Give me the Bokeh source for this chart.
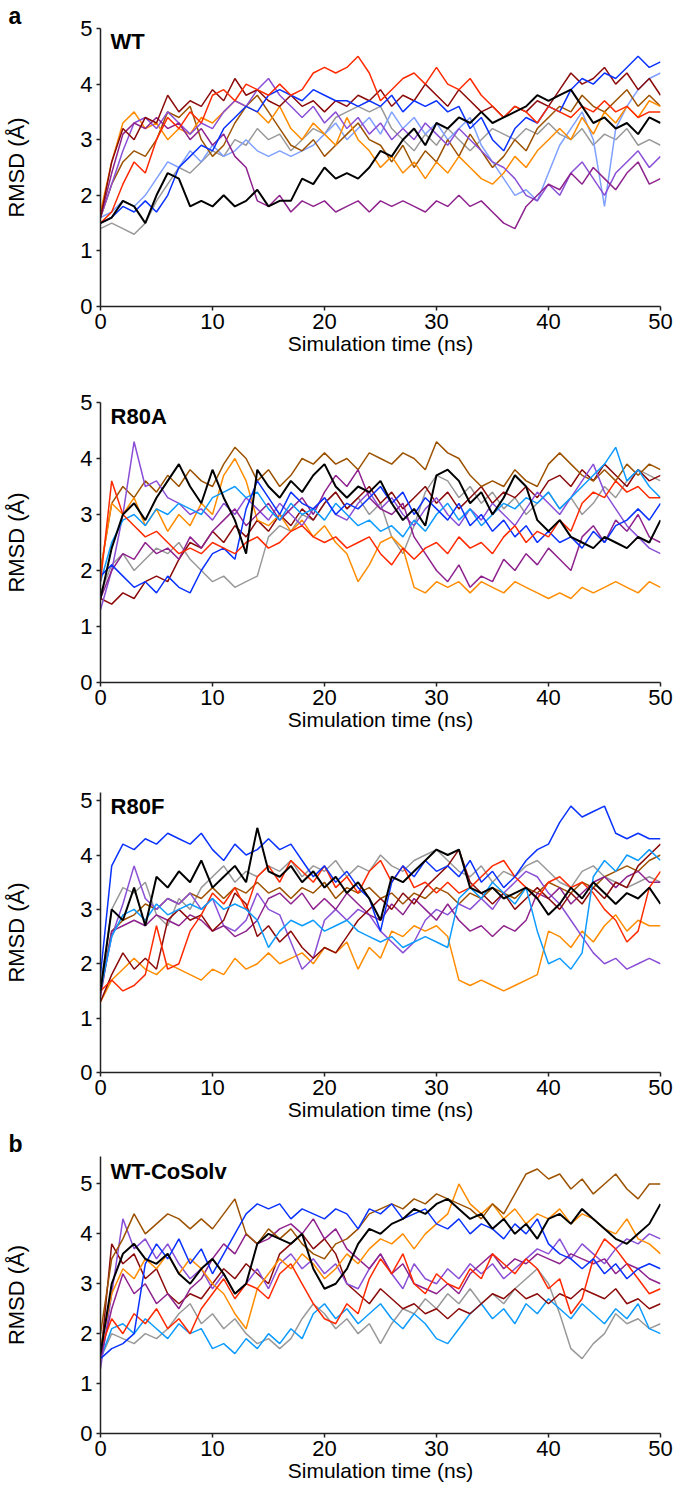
from bokeh.plotting import figure
from bokeh.layouts import column
from bokeh.models import Range1d, Label, FixedTicker
from bokeh.embed import file_html
from bokeh.resources import INLINE

TIME_NS = list(range(51))
X_TICKS = [0, 10, 20, 30, 40, 50]
Y_TICKS = [0, 1, 2, 3, 4, 5]

COLORS = {
    "black": "#000000", "red": "#ff2a00", "blue": "#0a32ff", "orange": "#ff8c00",
    "purple": "#8e238e", "violet": "#8a4fd6", "brown": "#9c5200", "grey": "#999999",
    "lightblue": "#7fa0ff", "darkred": "#8b0a0a", "skyblue": "#0d9bff",
}

# ---------------- WT ----------------
wt_black = [1.5,1.6,1.9,1.8,1.5,2.0,2.4,2.3,1.8,1.9,1.8,2.0,1.8,1.9,2.1,1.8,1.9,1.9,2.3,2.2,2.5,2.3,2.4,2.3,2.5,2.8,2.7,3.0,3.2,2.9,3.3,3.2,3.4,3.3,3.5,3.3,3.4,3.5,3.6,3.8,3.7,3.8,3.9,3.6,3.3,3.4,3.2,3.3,3.1,3.4,3.3]
wt_red = [1.5,1.7,2.2,2.6,2.4,3.0,3.4,3.2,3.5,3.3,3.8,3.9,3.7,4.0,3.9,3.8,4.0,3.8,3.9,4.2,4.3,4.2,4.3,4.5,4.2,3.7,3.9,4.1,4.2,4.0,4.3,4.0,3.9,4.1,3.8,3.6,3.4,3.6,3.5,3.3,3.6,3.5,3.4,3.6,3.5,3.7,3.5,3.6,3.4,3.5,3.5]
wt_blue = [1.5,1.6,1.8,1.7,1.9,1.7,2.0,2.5,2.7,2.9,2.8,3.2,3.4,3.6,3.5,3.8,3.9,3.8,3.7,3.9,3.8,3.7,3.7,3.6,3.7,3.6,3.8,3.5,3.7,3.6,3.7,3.5,3.6,3.2,3.4,3.0,2.8,3.2,3.4,3.3,3.6,3.5,3.9,4.1,4.0,4.2,4.1,4.3,4.5,4.3,4.4]
wt_orange = [1.7,2.6,3.3,3.5,3.2,3.3,3.0,3.2,3.1,3.4,3.3,3.5,3.7,3.6,3.5,3.3,3.6,3.2,3.0,3.3,3.1,2.9,3.4,3.0,2.8,2.5,2.7,2.4,2.6,2.3,2.6,2.4,2.7,2.5,2.3,2.2,2.4,2.7,2.5,2.8,3.0,3.2,3.0,3.4,3.1,3.5,3.3,3.6,3.4,3.7,3.6]
wt_purple = [1.6,2.4,3.1,3.3,3.2,3.4,3.2,3.3,3.0,3.2,2.9,3.1,2.7,2.5,1.9,1.8,2.0,1.7,1.9,1.8,1.9,1.7,1.8,1.9,1.7,1.9,1.8,1.9,1.8,1.7,1.9,1.8,2.0,1.8,1.9,1.7,1.5,1.4,1.8,2.0,2.2,2.1,2.4,2.2,2.5,2.3,2.1,2.4,2.6,2.2,2.3]
wt_violet = [1.6,2.2,2.8,3.3,3.4,3.2,3.5,3.3,3.1,3.3,3.2,3.5,3.7,3.6,3.9,4.1,3.8,3.6,3.4,3.6,3.3,3.5,3.2,3.4,3.1,3.3,3.0,3.2,3.0,3.3,3.1,2.9,3.2,3.0,2.8,2.6,2.5,2.3,2.0,1.9,2.2,2.0,2.4,2.6,2.3,2.0,2.4,2.6,2.8,2.5,2.7]
wt_brown = [1.6,2.2,2.6,2.8,2.7,3.0,3.5,3.4,3.6,3.0,2.7,2.9,3.3,3.6,3.8,3.5,3.2,2.9,2.8,3.0,2.7,2.9,3.1,3.3,3.0,2.9,2.6,2.9,2.5,2.8,2.6,3.0,2.7,3.1,2.8,2.5,2.7,3.0,2.8,3.2,3.4,3.6,3.5,3.8,3.6,3.5,3.7,3.9,3.6,3.8,3.6]
wt_grey = [1.4,1.5,1.4,1.3,1.5,1.9,2.2,2.5,2.4,2.6,2.8,2.7,3.0,2.9,3.2,3.0,3.1,2.8,3.0,3.2,3.1,3.4,3.5,3.6,3.5,3.6,3.2,3.0,2.8,3.1,2.9,3.2,3.0,2.8,3.0,3.2,3.1,3.0,3.2,3.1,3.3,3.1,3.0,3.2,2.9,3.1,3.0,3.2,2.9,3.0,2.9]
wt_lightblue = [1.6,1.7,1.9,1.8,2.0,2.3,2.6,2.5,2.8,2.6,2.9,2.7,2.8,3.0,2.8,2.7,2.8,2.7,2.8,2.9,3.1,3.3,3.0,3.2,3.4,3.1,3.5,3.2,3.4,3.1,3.3,3.0,3.2,3.4,2.9,2.6,2.3,2.0,2.1,1.9,2.4,2.9,3.2,3.5,3.0,1.8,3.2,3.6,3.9,4.1,4.2]
wt_darkred = [1.6,2.6,3.2,3.0,3.4,3.3,3.8,3.5,3.7,3.6,3.9,3.7,4.1,3.8,3.9,3.7,3.6,3.8,3.6,3.7,3.5,3.7,3.6,3.8,3.7,3.9,3.6,3.8,3.7,4.0,3.8,3.6,3.9,3.7,3.5,3.6,3.4,3.6,3.5,3.7,3.6,3.9,4.2,4.0,4.1,4.3,4.0,4.2,3.9,4.1,3.8]

# ---------------- R80A ----------------
a_brown = [2.0,3.2,3.5,3.3,3.6,3.4,3.7,3.5,3.8,3.6,3.5,3.9,4.2,4.0,3.6,3.8,3.5,3.7,4.0,3.9,4.1,3.9,4.0,3.8,4.1,4.0,3.9,4.1,4.0,3.8,4.3,4.1,4.0,3.7,3.5,3.6,3.5,3.8,3.6,3.5,3.9,4.1,3.9,3.7,3.6,3.8,3.6,3.9,3.7,3.9,3.8]
a_black = [1.5,2.4,3.0,3.2,2.9,3.3,3.6,3.9,3.5,3.2,3.8,3.3,2.9,2.3,3.8,3.5,3.3,3.6,3.4,3.7,3.9,3.5,3.3,3.5,3.4,3.6,3.2,2.9,3.1,2.8,3.7,3.8,3.6,3.2,3.4,3.0,3.3,3.7,3.5,2.9,2.7,2.9,2.6,2.5,2.4,2.6,2.5,2.4,2.6,2.5,2.9]
a_red = [1.8,3.6,3.0,2.8,2.6,2.7,2.5,2.3,2.4,2.3,2.5,2.4,2.3,2.5,2.6,2.4,2.5,2.7,2.8,2.6,2.5,2.6,2.4,2.5,2.6,2.3,2.1,2.4,2.2,2.4,2.5,2.3,2.6,2.4,2.5,2.3,2.6,2.8,2.5,2.7,2.6,2.9,2.7,3.2,3.4,3.3,3.6,3.4,3.5,3.3,3.3]
a_blue = [1.9,2.1,1.9,1.7,1.8,1.6,1.9,1.7,1.6,2.0,2.3,2.4,2.2,3.1,3.6,3.3,3.0,3.4,3.2,3.1,3.3,3.0,3.2,3.1,3.3,3.5,3.2,3.4,3.0,3.3,3.1,2.9,3.2,2.8,3.0,2.7,2.9,2.6,2.8,2.5,2.7,2.5,2.6,2.4,2.7,2.5,2.8,2.9,3.1,2.9,3.2]
a_skyblue = [1.8,2.5,2.9,3.0,2.8,3.1,3.0,3.2,3.1,3.0,3.3,3.4,3.5,3.3,3.4,3.1,2.9,3.2,3.0,3.1,2.9,3.2,3.0,2.8,2.9,2.7,2.8,2.6,2.9,2.7,3.0,3.2,2.9,3.1,2.8,3.0,3.2,3.1,3.3,3.2,3.4,3.1,3.3,3.5,3.7,3.9,4.2,3.6,3.8,3.5,3.3]
a_orange = [2.0,3.2,3.0,3.3,2.8,3.1,2.7,3.0,2.8,3.2,3.0,3.7,4.0,3.6,2.9,2.8,3.0,2.7,2.9,2.6,2.8,2.5,2.3,1.8,2.1,2.5,2.6,2.4,1.7,1.6,1.8,1.7,1.8,1.6,1.8,1.7,1.6,1.8,1.7,1.6,1.5,1.6,1.5,1.7,1.6,1.7,1.8,1.7,1.6,1.8,1.7]
a_purple = [1.5,2.0,2.3,2.2,2.5,2.3,2.4,2.2,2.6,2.4,2.7,2.9,3.1,2.8,3.0,3.2,2.9,3.1,3.3,3.0,3.4,3.7,3.5,3.8,3.3,3.1,3.0,3.2,2.6,2.3,2.0,1.8,2.1,1.7,1.9,1.8,2.2,2.0,2.3,2.1,2.4,2.2,2.0,2.6,2.8,2.5,2.9,2.7,3.0,2.6,2.5]
a_violet = [1.3,2.0,3.0,4.3,3.5,3.6,3.3,3.2,3.0,3.1,2.9,3.2,3.0,3.3,3.1,2.9,3.2,3.0,2.8,3.1,3.3,3.0,2.9,3.2,3.4,3.1,3.3,3.0,2.8,3.1,3.3,3.0,2.8,3.1,2.9,3.2,3.0,2.8,3.1,3.4,3.2,3.0,3.3,3.6,3.9,3.4,3.1,2.8,2.6,2.4,2.3]
a_grey = [1.6,2.1,2.3,2.0,2.2,2.4,2.3,2.5,2.2,2.0,1.8,1.9,1.7,1.8,1.9,2.6,2.8,2.7,3.0,2.9,3.2,3.4,3.1,3.3,3.0,3.2,2.6,2.3,2.8,3.4,3.7,3.6,3.3,3.5,3.2,3.4,3.1,3.3,3.0,3.2,3.4,3.1,3.3,3.0,3.2,3.5,3.3,3.6,3.8,3.7,3.6]
a_darkred = [1.5,1.4,1.6,1.5,1.8,1.9,1.8,2.2,2.5,2.4,2.7,2.5,2.8,2.6,2.9,2.7,3.0,2.8,3.1,2.9,3.2,3.4,3.1,3.3,3.5,3.2,3.4,3.1,3.3,3.5,3.2,3.4,3.1,3.3,3.5,3.2,3.4,3.3,3.5,3.3,3.6,3.7,3.5,3.8,3.6,3.9,3.7,3.5,3.8,3.6,3.7]

# ---------------- R80F ----------------
f_blue = [1.8,3.8,4.2,4.1,4.3,4.2,4.4,4.3,4.2,4.4,4.1,3.9,4.2,4.0,4.1,4.3,4.1,4.2,3.9,3.6,3.8,3.5,3.7,3.4,3.2,2.6,3.5,3.8,3.6,3.9,3.7,3.8,3.6,3.9,3.5,3.7,3.4,3.6,3.9,4.1,4.2,4.6,4.9,4.7,4.8,4.9,4.4,4.3,4.4,4.3,4.3]
f_skyblue = [1.5,2.5,2.9,3.0,2.8,3.1,2.9,3.0,3.1,3.0,3.2,3.0,3.1,3.0,2.8,2.3,2.6,2.8,2.7,2.8,2.6,2.7,2.8,2.6,2.5,2.4,2.5,2.3,2.4,2.5,2.4,2.3,3.2,3.4,3.2,3.5,3.3,3.1,3.4,2.6,2.0,2.1,1.9,2.2,3.6,3.9,3.7,4.0,3.9,4.1,3.9]
f_black = [1.5,3.0,2.8,3.4,2.7,3.6,3.4,3.7,3.5,3.9,3.4,3.6,3.8,3.5,4.5,3.7,3.6,3.8,3.5,3.7,3.4,3.6,3.3,3.5,3.2,2.8,3.6,3.5,3.7,3.9,4.1,4.0,4.1,3.4,3.3,3.4,3.2,3.3,3.4,3.2,2.9,3.1,3.4,3.2,3.5,3.3,3.1,3.3,3.2,3.4,3.1]
f_grey = [1.6,3.0,3.4,3.3,3.5,2.9,2.7,3.2,3.0,3.4,3.6,3.8,3.5,3.7,3.6,3.8,3.7,3.9,3.6,3.8,3.7,3.9,3.6,3.8,3.7,4.0,3.8,3.7,3.9,4.0,4.1,3.9,3.7,3.6,3.8,3.5,3.7,3.6,3.8,3.9,3.7,3.5,3.4,3.7,3.8,3.6,3.5,3.4,3.5,3.6,3.5]
f_violet = [1.5,2.5,3.1,3.8,3.2,3.0,3.2,3.1,3.3,3.0,3.2,2.7,2.6,2.8,3.3,3.0,2.9,2.4,1.9,2.1,2.8,3.0,2.8,3.0,2.9,2.6,2.4,2.2,2.4,2.8,3.0,2.9,3.1,3.0,3.2,3.0,3.3,3.5,3.7,3.6,3.3,3.1,2.8,2.5,2.2,2.0,2.1,1.9,2.0,2.1,2.0]
f_purple = [1.4,2.6,2.7,2.8,2.7,2.9,2.8,2.7,2.9,2.8,2.6,2.7,2.5,2.6,2.8,3.2,3.3,3.1,3.3,3.0,3.2,3.0,3.3,3.1,2.9,2.8,3.1,2.9,3.2,3.0,2.8,3.1,2.8,2.6,2.7,2.5,2.7,2.6,2.8,3.3,3.2,3.4,3.1,3.3,3.5,3.6,3.4,3.6,3.7,3.5,3.5]
f_brown = [1.5,2.6,2.8,2.9,3.1,3.0,3.2,3.1,3.3,3.2,3.4,3.2,3.4,3.3,3.5,3.3,3.4,3.2,3.4,3.3,3.5,3.2,3.4,3.3,3.4,3.2,3.3,3.1,3.3,3.2,3.4,3.3,3.1,3.3,3.2,3.4,3.3,3.2,3.4,3.3,3.5,3.4,3.3,3.5,3.4,3.6,3.7,3.8,3.7,3.9,4.0]
f_darkred = [1.3,1.8,2.2,1.9,2.1,1.9,2.8,3.0,2.8,2.9,2.6,2.8,3.3,3.1,2.5,2.7,2.4,2.6,2.3,2.1,2.3,2.2,2.5,2.8,3.0,3.2,3.0,3.3,3.1,3.4,3.6,3.8,4.1,3.5,3.3,3.1,3.3,3.0,3.2,3.4,3.2,3.0,3.3,3.1,3.4,3.2,3.5,3.4,3.8,4.0,4.2]
f_red = [1.5,1.7,1.5,1.6,1.8,2.7,1.9,2.0,2.6,2.9,3.3,3.1,3.4,3.0,3.6,3.8,3.5,3.9,3.7,3.5,3.8,3.4,3.6,3.3,3.7,3.9,3.5,3.8,3.4,3.5,3.3,3.5,3.3,3.4,3.6,3.8,3.9,3.6,3.4,3.2,3.5,3.6,3.4,3.5,3.3,3.0,2.8,2.4,2.6,3.4,3.7]
f_orange = [1.3,1.7,1.9,2.1,1.9,1.8,2.0,1.9,1.8,1.7,1.9,1.8,2.1,1.9,2.0,2.2,2.0,2.1,2.2,2.0,2.3,2.2,2.4,1.9,2.3,2.1,2.6,2.5,2.7,2.6,2.7,2.5,1.7,1.6,1.7,1.6,1.5,1.6,1.7,1.8,2.6,2.5,2.3,2.6,2.4,2.7,2.9,2.6,2.8,2.7,2.7]

# ---------------- WT-CoSolv ----------------
c_brown = [2.0,3.5,3.9,4.4,4.0,4.2,4.4,4.3,4.1,4.3,4.1,4.4,4.7,4.0,3.8,4.1,3.9,4.1,3.8,3.6,3.5,3.8,3.9,4.1,4.4,4.5,4.6,4.5,4.7,4.6,4.8,4.7,4.6,4.5,4.3,4.6,4.4,4.8,5.2,5.3,5.1,5.2,4.9,5.1,4.8,5.0,5.2,4.9,4.7,5.0,5.0]
c_black = [1.6,3.0,3.6,3.8,3.5,3.4,3.6,3.2,3.0,3.3,3.5,3.2,2.8,3.0,3.8,4.0,3.9,3.8,4.0,3.3,2.9,3.0,3.3,3.8,4.1,4.0,4.2,4.3,4.5,4.4,4.6,4.7,4.5,4.3,4.4,4.1,4.3,4.0,4.2,3.9,4.3,4.4,4.2,4.5,4.3,4.1,3.9,3.8,4.0,4.2,4.6]
c_blue = [1.5,1.7,1.8,2.0,3.4,3.8,3.5,3.9,3.4,3.7,3.2,3.6,4.0,4.4,4.6,4.5,4.6,4.3,4.5,4.4,4.3,4.5,4.4,4.1,4.5,4.4,4.6,4.3,4.4,4.5,4.2,4.1,4.3,4.0,4.2,4.1,3.9,4.2,4.0,4.3,3.8,3.6,3.5,3.3,3.5,3.2,3.4,3.1,3.3,3.4,3.3]
c_skyblue = [1.5,2.1,2.2,2.0,2.3,2.1,1.9,2.2,2.0,2.1,1.7,1.8,1.6,1.9,1.7,2.0,1.8,2.1,1.9,2.4,2.6,2.3,2.5,2.2,2.4,2.6,2.3,2.1,2.4,2.2,1.9,1.8,2.1,2.4,2.6,2.3,2.5,2.2,2.6,2.4,2.7,2.5,2.3,2.6,2.4,2.2,2.5,2.3,2.6,2.1,2.0]
c_grey = [1.5,2.0,1.9,1.8,2.0,1.9,2.1,2.4,2.6,2.2,2.4,2.1,2.3,2.0,1.8,1.9,1.7,1.9,2.3,2.6,2.4,2.1,2.3,2.0,2.2,1.8,2.2,2.5,2.4,2.7,2.5,2.8,2.6,2.9,2.6,2.8,2.6,2.9,3.1,3.3,3.0,2.4,1.7,1.5,1.8,2.0,2.4,2.2,2.3,2.1,2.2]
c_orange = [1.7,2.8,3.3,3.1,3.5,3.3,3.6,3.2,3.5,3.3,3.0,2.8,2.4,2.1,2.9,3.2,3.5,3.3,3.6,3.4,3.1,3.3,3.6,3.4,3.7,3.9,3.8,4.0,3.7,4.0,4.2,4.4,5.0,4.6,4.4,4.6,4.3,4.5,4.2,4.4,4.3,4.5,4.2,4.4,4.3,4.1,4.0,4.3,3.9,3.8,3.6]
c_purple = [1.5,2.5,3.2,2.8,3.0,2.6,2.8,2.5,2.9,3.1,3.5,3.8,3.6,4.0,3.8,3.9,4.1,4.2,4.0,4.3,3.9,4.1,3.7,3.5,3.3,3.6,3.2,3.4,3.0,2.9,2.8,3.0,2.8,3.2,3.4,3.6,3.3,3.5,3.4,3.6,3.5,3.4,3.6,3.5,3.4,3.5,3.2,3.4,3.3,3.1,3.0]
c_violet = [1.3,2.8,4.3,3.7,3.9,3.5,3.8,3.4,3.1,3.3,2.9,3.2,2.8,3.0,3.3,2.9,3.4,3.6,3.3,3.5,3.2,3.4,3.0,2.9,3.3,3.6,3.2,2.9,3.4,3.1,3.0,3.3,3.1,3.4,3.2,3.4,3.1,3.3,3.5,3.7,3.6,3.9,3.5,3.8,3.6,3.4,3.7,3.9,3.8,4.0,3.9]
c_darkred = [1.5,3.8,3.4,3.6,3.1,3.3,2.8,2.6,2.8,2.7,3.0,3.3,3.1,3.4,3.2,3.0,3.6,3.8,4.0,3.7,3.9,3.6,3.0,2.8,2.6,2.9,2.7,2.5,2.6,2.4,2.5,2.3,2.5,2.4,2.6,2.8,2.7,2.9,2.7,2.8,2.6,2.8,2.7,2.9,2.8,2.7,2.9,2.6,2.7,2.5,2.6]
c_red = [1.7,2.3,2.0,2.4,2.2,2.5,2.1,2.3,2.0,2.5,2.8,3.1,2.7,3.0,2.9,2.7,3.2,3.4,3.0,2.6,2.3,2.2,2.6,2.4,3.1,3.5,3.2,3.6,3.0,2.8,3.2,3.0,2.9,3.3,3.1,3.6,3.4,3.2,3.5,3.3,2.9,3.1,2.4,2.7,3.5,3.9,3.7,3.4,3.1,2.8,2.9]

PANELS = [
    # (title, y max, [(color, series)], top border, frame height, bottom border, letter, title y)
    ("WT", 5.0, [("grey", wt_grey), ("lightblue", wt_lightblue), ("brown", wt_brown), ("orange", wt_orange),
                 ("violet", wt_violet), ("purple", wt_purple), ("darkred", wt_darkred), ("blue", wt_blue),
                 ("red", wt_red), ("black", wt_black)], 28, 278, 66, "a", 4.77),
    ("R80A", 5.0, [("grey", a_grey), ("darkred", a_darkred), ("brown", a_brown), ("orange", a_orange),
                   ("violet", a_violet), ("purple", a_purple), ("skyblue", a_skyblue), ("blue", a_blue),
                   ("red", a_red), ("black", a_black)], 30, 280, 66, "", 4.75),
    ("R80F", 5.15, [("grey", f_grey), ("brown", f_brown), ("orange", f_orange), ("violet", f_violet),
                    ("purple", f_purple), ("darkred", f_darkred), ("red", f_red), ("skyblue", f_skyblue),
                    ("blue", f_blue), ("black", f_black)], 44, 280, 56, "", 4.89),
    ("WT-CoSolv", 5.55, [("grey", c_grey), ("skyblue", c_skyblue), ("darkred", c_darkred), ("violet", c_violet),
                         ("purple", c_purple), ("orange", c_orange), ("red", c_red), ("brown", c_brown),
                         ("blue", c_blue), ("black", c_black)], 26, 279, 58, "b", 5.25),
]

FONT = "Liberation Sans"
figs = []
for title, ymax, series, top_b, frame_h, bot_b, letter, title_y in PANELS:
    p = figure(width=676, height=top_b + frame_h + bot_b, output_backend="svg", toolbar_location=None,
               x_range=Range1d(0, 50), y_range=Range1d(0, ymax),
               min_border_left=100, min_border_right=16, min_border_top=top_b, min_border_bottom=bot_b)
    p.outline_line_color = None
    p.grid.visible = False
    p.background_fill_color = "white"
    p.border_fill_color = "white"
    if letter:
        p.title.text = letter
        p.title.align = "left"
        p.title.offset = -92
        p.title.standoff = 0
        p.title.text_font = FONT
        p.title.text_font_style = "bold"
        p.title.text_font_size = "23px"
        p.title.text_color = "black"
    for cname, vals in series:
        p.line(TIME_NS, vals, line_color=COLORS[cname], line_width=2.0 if cname == "black" else 1.5)
    for ax in (p.xaxis[0], p.yaxis[0]):
        ax.axis_line_width = 1.5
        ax.axis_line_color = "#222222"
        ax.major_tick_line_width = 1.5
        ax.major_tick_line_color = "#222222"
        ax.major_tick_in = 0
        ax.major_tick_out = 4
        ax.minor_tick_line_color = None
        ax.major_label_text_font = FONT
        ax.major_label_text_color = "black"
        ax.axis_label_text_font = FONT
        ax.axis_label_text_font_style = "normal"
        ax.axis_label_text_color = "black"
    p.xaxis.ticker = FixedTicker(ticks=X_TICKS)
    p.yaxis.ticker = FixedTicker(ticks=Y_TICKS)
    p.xaxis.major_label_text_font_size = "22px"
    p.yaxis.major_label_text_font_size = "22px"
    p.xaxis.axis_label = "Simulation time (ns)"
    p.yaxis.axis_label = "RMSD (Å)"
    p.xaxis.axis_label_text_font_size = "21px"
    p.yaxis.axis_label_text_font_size = "22px"
    p.xaxis.major_label_standoff = 3
    p.yaxis.major_label_standoff = 4
    p.xaxis.axis_label_standoff = 0
    p.yaxis.axis_label_standoff = 48
    p.add_layout(Label(x=0.9, y=title_y, text=title, text_font=FONT, text_font_style="bold",
                       text_font_size="22px", text_color="black", text_baseline="alphabetic"))
    figs.append(p)

layout = column(*figs, spacing=0)
open("out.html", "w").write(file_html(layout, INLINE))
